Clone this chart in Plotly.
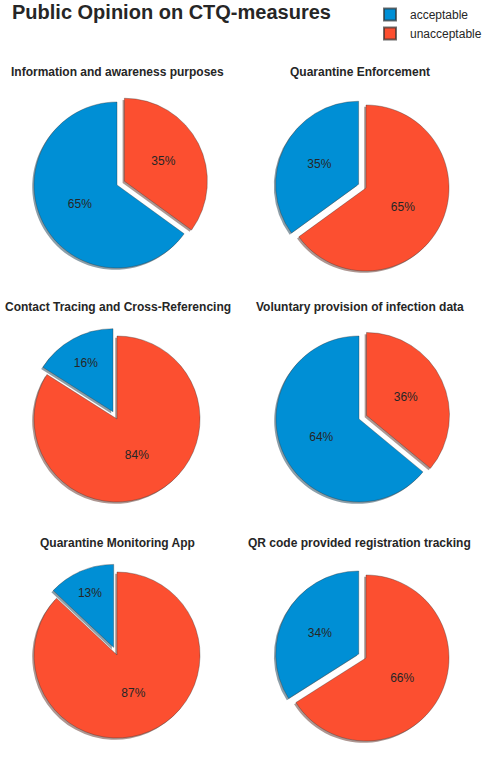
import plotly.graph_objects as go

# ---- data ----
measures = [
    "Information and awareness purposes",
    "Quarantine Enforcement",
    "Contact Tracing and Cross-Referencing",
    "Voluntary provision of infection data",
    "Quarantine Monitoring App",
    "QR code provided registration tracking",
]
labels = ["acceptable", "unacceptable"]
acceptable = [65, 35, 16, 64, 13, 34]
unacceptable = [35, 65, 84, 36, 87, 66]

# ---- layout constants ----
W, H = 489, 761
centers = [(117, 185), (366, 188), (117, 419), (359, 419), (117, 655), (366, 658)]
title_pos = [(117.5, 72), (359.5, 72), (117.5, 307), (359.5, 307), (117.5, 543), (359.5, 543)]
R = 83
PULL = 0.1
colors = ["#008fd5", "#fc4f30"]
shadow_colors = ["rgba(0,43,64,0.45)", "rgba(76,24,14,0.45)"]
SH = 1.8  # shadow offset px

fig = go.Figure()

def domain(cx, cy, half):
    return dict(x=[(cx - half) / W, (cx + half) / W],
                y=[1 - (cy + half) / H, 1 - (cy - half) / H])

for i, name in enumerate(measures):
    vals = [acceptable[i], unacceptable[i]]
    pulls = [PULL if v == min(vals) else 0 for v in vals]
    # first slice starts at 12 o'clock going counter-clockwise (matplotlib startangle=90)
    rot = -360.0 * vals[0] / sum(vals)
    cx, cy = centers[i]
    half = R * (1 + PULL)
    # shadow
    fig.add_trace(go.Pie(
        labels=labels, values=vals, pull=pulls, sort=False,
        direction="clockwise", rotation=rot,
        marker=dict(colors=shadow_colors, line=dict(width=0)),
        textinfo="none", hoverinfo="skip", showlegend=False,
        domain=domain(cx - SH, cy + SH, half),
    ))
    fig.add_trace(go.Pie(
        labels=labels, values=vals, pull=pulls, sort=False,
        direction="clockwise", rotation=rot,
        marker=dict(colors=colors, line=dict(width=0.5, color="rgba(50,50,50,0.7)")),
        texttemplate="%{percent:.0%}", textposition="inside",
        insidetextorientation="horizontal",
        textfont=dict(family="Liberation Sans", size=12, color="#262626"),
        showlegend=(i == 0), name=name,
        domain=domain(cx, cy, half),
    ))
    tx, ty = title_pos[i]
    fig.add_annotation(text="<b>%s</b>" % name, x=tx / W, y=1 - ty / H,
                       xref="paper", yref="paper", showarrow=False,
                       xanchor="center", yanchor="middle",
                       font=dict(family="Liberation Sans", size=12, color="#262626"))

fig.add_annotation(text="<b>Public Opinion on CTQ-measures</b>", x=10 / W, y=1 - 12 / H,
                   xref="paper", yref="paper", showarrow=False,
                   xanchor="left", yanchor="middle",
                   font=dict(family="Liberation Sans", size=20, color="#262626"))

fig.update_layout(
    width=W, height=H,
    margin=dict(l=0, r=0, t=0, b=0),
    paper_bgcolor="white", plot_bgcolor="white",
    showlegend=True,
    legend=dict(x=370 / W, y=1, xanchor="left", yanchor="top",
                font=dict(family="Liberation Sans", size=12, color="#262626"),
                bgcolor="rgba(0,0,0,0)", tracegroupgap=0, itemsizing="constant"),
)

fig.write_html("out.html", config={"displayModeBar": False},
               post_script="document.body.style.margin='0';")
